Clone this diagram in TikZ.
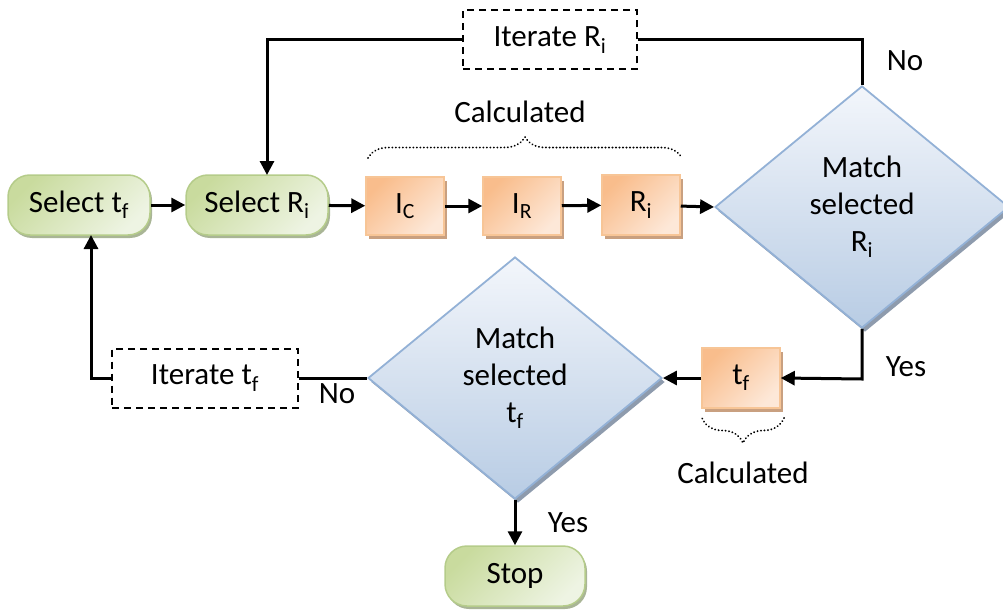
\documentclass[tikz,border=0pt]{standalone}
\usepackage{fontspec}
\setmainfont{Carlito}
\usetikzlibrary{arrows.meta,shapes.geometric,shadows,decorations.pathreplacing,calc}
\definecolor{gA}{HTML}{C9DB9E}
\definecolor{gB}{HTML}{EEF4E3}
\definecolor{gBorder}{HTML}{B5CC8A}
\definecolor{gShadow}{HTML}{A9B596}
\definecolor{oA}{HTML}{F9BD8C}
\definecolor{oB}{HTML}{FDE8D8}
\definecolor{oBorder}{HTML}{F7C596}
\definecolor{oShadow}{HTML}{C9A080}
\definecolor{bA}{HTML}{F3F6FB}
\definecolor{bB}{HTML}{B8CCE4}
\definecolor{bBorder}{HTML}{93B1D6}
\definecolor{bShadow}{HTML}{8E9BAD}
\tikzset{
  every node/.style={font=\fontsize{31}{37}\selectfont, inner sep=0pt},
  pill/.style={draw=gBorder, line width=1.5pt, rounded corners=22pt,
    top color=gA, bottom color=gB, shading angle=45,
    minimum width=142pt, minimum height=60pt,
    drop shadow={shadow xshift=2pt, shadow yshift=-3pt, fill=gShadow, opacity=1}},
  obox/.style={draw=oBorder, line width=1.5pt,
    top color=oA, bottom color=oB, shading angle=45,
    minimum width=78pt, minimum height=58pt,
    drop shadow={shadow xshift=3pt, shadow yshift=-4pt, fill=oShadow, opacity=1}},
  dia/.style={diamond, draw=bBorder, line width=1.8pt, aspect=1.2,
    top color=bA, bottom color=bB, align=center,
    minimum width=294pt, minimum height=242pt,
    drop shadow={shadow xshift=3pt, shadow yshift=-4pt, fill=bShadow, opacity=1}},
  dbox/.style={draw, dashed, dash pattern=on 7pt off 5pt, line width=2pt,
    minimum height=59pt},
  conn/.style={line width=3pt, draw=black},
  arr/.style={conn, -{Triangle[length=14pt,width=14pt]}},
  dbrace/.style={decorate, decoration={brace, amplitude=#1},
    line width=2pt, dash pattern=on 0.1pt off 3.4pt, line cap=round}
}
\begin{document}
\begin{tikzpicture}[x=1pt,y=-1pt]
\useasboundingbox (0,0) rectangle (1003,615);
% nodes
\node[pill] (stf) at (79,205) {Select t\textsubscript{f}};
\node[pill] (sri) at (257,205) {Select R\textsubscript{i}};
\node[obox] (ic) at (405,206) {I\textsubscript{C}};
\node[obox] (ir) at (522,206) {I\textsubscript{R}};
\node[obox, minimum height=60pt] (ri) at (641,205) {R\textsubscript{i}};
\node[dia] (d1) at (862,207) {Match\\selected\\R\textsubscript{i}};
\node[dbox, minimum width=174pt] (iri) at (550,40) {Iterate R\textsubscript{i}};
\node[obox, minimum height=60pt] (tf) at (741,378) {t\textsubscript{f}};
\node[dia] (d2) at (515,378) {Match\\selected\\t\textsubscript{f}};
\node[dbox, minimum width=186pt] (itf) at (205,378) {Iterate t\textsubscript{f}};
\node[pill, minimum width=140pt] (stop) at (515,576) {Stop};
% labels
\node (calc1) at (520,112) {Calculated};
\node (calc2) at (743,473) {Calculated};
\node (no1) at (905,61) {No};
\node (yes1) at (906,367) {Yes};
\node (no2) at (337,394) {No};
\node (yes2) at (568,523) {Yes};
% braces
\coordinate (b1l) at (368,158);
\coordinate (b1r) at (682,158);
\draw[dbrace=21pt] (b1l) -- (b1r);
\coordinate (b2l) at (702,418);
\coordinate (b2r) at (784,418);
\draw[dbrace=25pt] (b2r) -- (b2l);
% connectors
\draw[arr] (stf) -- (sri);
\draw[arr] (sri) -- (ic);
\draw[arr] (ic) -- (ir);
\draw[arr] (ir) -- (ri);
\draw[arr] (ri) -- (d1.west);
\coordinate (c1) at (862,40);
\draw[conn] (d1.north) -- (c1) -- (iri.east);
\coordinate (c2) at (267,40);
\coordinate (c3) at (267,175);
\draw[arr] (iri.west) -- (c2) -- (c3);
\coordinate (c4) at (862,379);
\draw[arr] (d1.south) -- (c4) -- (tf.east);
\draw[arr] (tf.west) -- (d2.east);
\draw[conn] (d2.west) -- (itf.east);
\coordinate (c5) at (91,378);
\coordinate (c6) at (91,235);
\draw[arr] (itf.west) -- (c5) -- (c6);
\draw[arr] (d2.south) -- (stop.north);
\end{tikzpicture}
\end{document}
